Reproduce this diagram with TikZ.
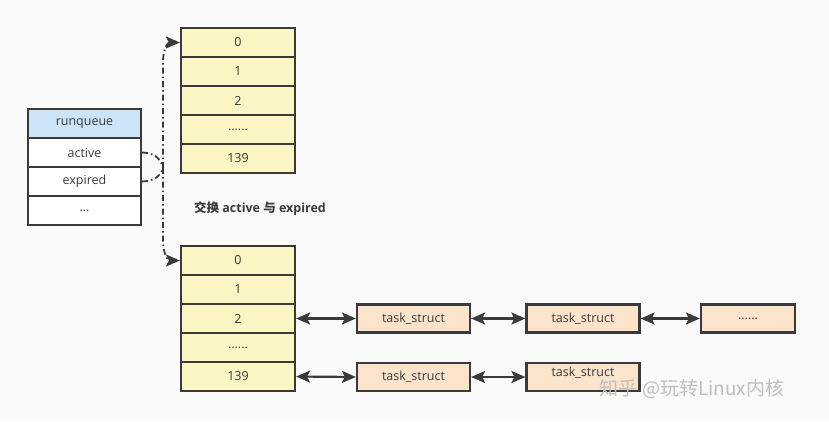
\documentclass[tikz,border=0pt]{standalone}
\usepackage{fontspec}
\setmainfont{Open Sans}
\newfontfamily\cjk{Noto Sans CJK SC}
\usetikzlibrary{arrows.meta}
\definecolor{slotyellow}{HTML}{FBF6C4}
\definecolor{rqblue}{HTML}{CDE3F8}
\definecolor{taskpeach}{HTML}{FBE3CC}
\definecolor{edgegray}{HTML}{3A3A3A}
\definecolor{paper}{HTML}{FAFAFA}
\tikzset{
  cell/.style={draw=edgegray, line width=2.2pt, inner sep=0pt, font=\fontsize{12.5}{14}\selectfont, text=edgegray},
  slot/.style={cell, fill=slotyellow, minimum width=114pt, minimum height=29pt},
  rqrow/.style={cell, fill=white, minimum width=113pt, minimum height=29pt},
  task/.style={cell, fill=taskpeach, minimum width=113pt, minimum height=28pt},
  link/.style={line width=2.2pt, draw=edgegray, {Stealth[length=14pt,width=12pt,inset=3pt]}-{Stealth[length=14pt,width=12pt,inset=3pt]}},
  swapline/.style={line width=1.8pt, draw=edgegray, dash pattern=on 6pt off 3pt on 1.5pt off 3pt},
}
\begin{document}
\begin{tikzpicture}[x=1pt,y=-1pt]
  \fill[paper] (0,0) rectangle (829,421);
  \useasboundingbox (0,0) rectangle (829,421);

  % runqueue
  \node[rqrow, fill=rqblue] (rq) at (84.5,123.5) {runqueue};
  \node[rqrow] (active) at (84.5,152.5) {active};
  \node[rqrow] (expired) at (84.5,181.5) {expired};
  \node[rqrow] (rqmore) at (84.5,210.5) {...};

  % priority array (top)
  \node[slot] (top0) at (238,42.5) {0};
  \node[slot] (top1) at (238,71.5) {1};
  \node[slot] (top2) at (238,100.5) {2};
  \node[slot] (top3) at (238,129.5) {......};
  \node[slot] (top4) at (238,158.5) {139};

  % priority array (bottom)
  \node[slot] (bot0) at (238,260.5) {0};
  \node[slot] (bot1) at (238,289.5) {1};
  \node[slot] (bot2) at (238,318.5) {2};
  \node[slot] (bot3) at (238,347.5) {......};
  \node[slot] (bot4) at (238,376.5) {139};

  \node[font=\bfseries\fontsize{12.5}{14}\selectfont, text=edgegray] (swaptext) at (260,209) {{\cjk\bfseries 交换} active {\cjk\bfseries 与} expired};

  % swap pointers
  \coordinate (fork) at (163,168);
  \draw[swapline] (active.east) .. controls (152,153) and (160,156) .. (fork);
  \draw[swapline] (expired.east) .. controls (152,181) and (160,178) .. (fork);
  \draw[swapline, -{Stealth[length=14pt,width=12pt,inset=3pt]}] (fork) -- (163,62) .. controls (163,48) and (168,42.5) .. (top0.west);
  \draw[swapline, -{Stealth[length=14pt,width=12pt,inset=3pt]}] (fork) -- (163,240) .. controls (163,254) and (168,260.5) .. (bot0.west);

  % task lists
  \node[task] (t21) at (413.5,318.5) {task\_struct};
  \node[task] (t22) at (583,318.5) {task\_struct};
  \node[task, minimum width=94pt] (t23) at (748,318.5) {......};
  \node[task] (t41) at (413.5,377) {task\_struct};
  \node[task, text depth=10pt] (t42) at (583,377) {task\_struct};

  \draw[link] (bot2.east) -- (t21.west);
  \draw[link] (t21.east) -- (t22.west);
  \draw[link] (t22.east) -- (t23.west);
  \draw[link] (bot4.east) -- (t41.west);
  \draw[link] (t41.east) -- (t42.west);

  % watermark
  \node[font=\cjk\fontsize{19}{21}\selectfont, text=gray!50] (mark) at (692,389) {知乎 @玩转Linux内核};
\end{tikzpicture}
\end{document}
